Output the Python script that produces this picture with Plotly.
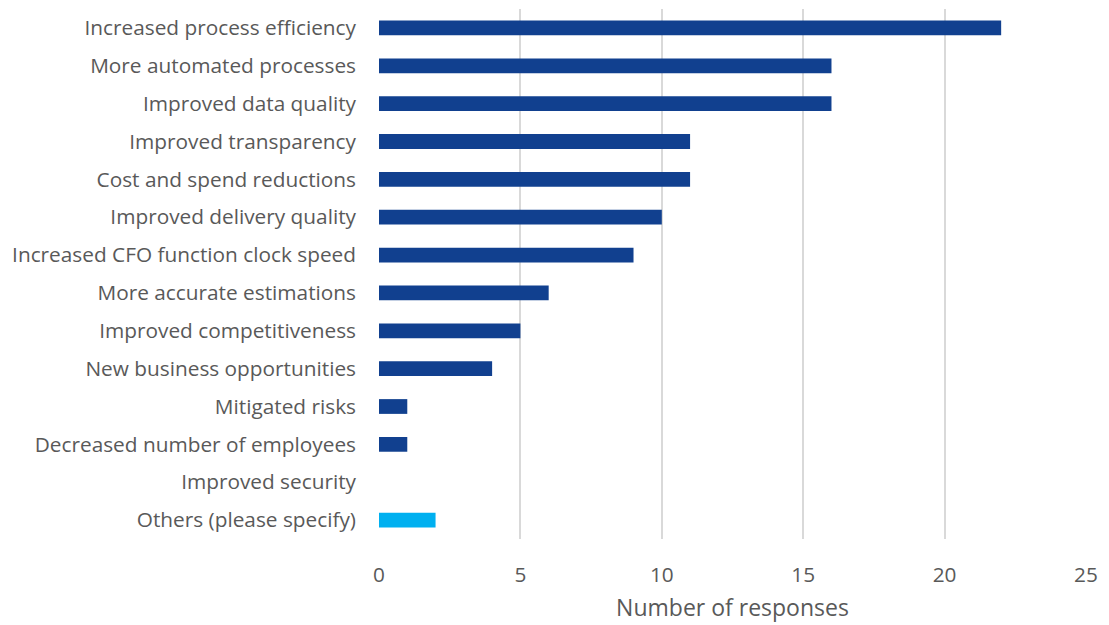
import plotly.graph_objects as go

categories = [
    "Increased process efficiency",
    "More automated processes",
    "Improved data quality",
    "Improved transparency",
    "Cost and spend reductions",
    "Improved delivery quality",
    "Increased CFO function clock speed",
    "More accurate estimations",
    "Improved competitiveness",
    "New business opportunities",
    "Mitigated risks",
    "Decreased number of employees",
    "Improved security",
    "Others (please specify)",
]
values = [22, 16, 16, 11, 11, 10, 9, 6, 5, 4, 1, 1, 0, 2]
colors = ["#11408F"] * 13 + ["#00B0F0"]

fig = go.Figure(go.Bar(
    y=categories, x=values, orientation="h",
    marker=dict(color=colors, line=dict(width=0)),
    width=0.39,
))

fig.update_layout(
    width=1109, height=625,
    margin=dict(l=379, r=23, t=9, b=86),
    paper_bgcolor="white", plot_bgcolor="white",
    font=dict(family="Open Sans", color="#595959", size=20.8),
    showlegend=False,
)
fig.update_xaxes(
    range=[0, 25], dtick=5, showgrid=True, gridcolor="#D9D9D9", gridwidth=2,
    zeroline=False, showline=False, ticks="",
    tickfont=dict(size=20.8, color="#595959"),
    ticklabelstandoff=21,
    title=dict(text="Number of responses", font=dict(size=23, color="#595959"), standoff=13),
)
fig.update_yaxes(
    autorange="reversed", showgrid=False, zeroline=False, showline=False, ticks="",
    tickfont=dict(size=20.8, color="#595959"),
    ticklabelstandoff=22,
)
fig.write_html("out.html")
